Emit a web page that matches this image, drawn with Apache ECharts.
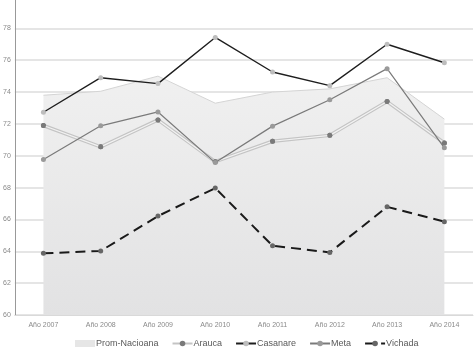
<!DOCTYPE html>
<html><head><meta charset="utf-8">
<script src="https://cdn.jsdelivr.net/npm/echarts@6/dist/echarts.min.js"></script>
<style>html,body{margin:0;padding:0;background:#fff;overflow:hidden}#c{width:475px;height:355px;margin-top:-7px}</style>
</head><body><div id="c"></div>
<script>
var categories = ['Año 2007','Año 2008','Año 2009','Año 2010','Año 2011','Año 2012','Año 2013','Año 2014'];
var promNacional = [73.8, 74.05, 75.0, 73.3, 74.0, 74.2, 74.9, 72.3];
var arauca = [71.9, 70.56, 72.25, 69.63, 70.91, 71.28, 73.4, 70.8];
var casanare = [72.73, 74.9, 74.53, 77.43, 75.26, 74.4, 77.0, 75.84];
var meta = [69.77, 71.88, 72.75, 69.57, 71.86, 73.52, 75.47, 70.5];
var vichada = [63.87, 64.02, 66.21, 67.97, 64.35, 63.93, 66.79, 65.86];

var chart = echarts.init(document.getElementById('c'));
chart.setOption({
  animation: false,
  grid: {left: 12, right: 2, top: 0, bottom: 33, containLabel: false},
  legend: {
    bottom: -5, left: 70, itemGap: 13, itemWidth: 20, itemHeight: 7,
    textStyle: {fontSize: 9, color: '#595959', fontFamily: 'Liberation Sans', padding: [0,0,0,-4]},
    data: [
      {name: 'Prom-Nacioana', icon: 'rect'},
      {name: 'Arauca'}, {name: 'Casanare'}, {name: 'Meta'}, {name: 'Vichada'}
    ]
  },
  xAxis: {
    type: 'category', data: categories, boundaryGap: true,
    axisLine: {lineStyle: {color: '#d9d9d9'}}, axisTick: {show: false},
    axisLabel: {fontSize: 7, color: '#8a8a8a', margin: 7, fontFamily: 'Liberation Sans'}
  },
  yAxis: {
    type: 'value', min: 60, max: 80, interval: 2,
    axisLine: {show: true, lineStyle: {color: '#999', width: 1}}, axisTick: {show: false},
    axisLabel: {fontSize: 7, color: '#8a8a8a', margin: 4, fontFamily: 'Liberation Sans'},
    splitLine: {lineStyle: {color: '#dcdcdc', width: 1.5}}
  },
  series: [
    {name: 'Prom-Nacioana', type: 'line', data: promNacional, showSymbol: false, symbol: 'none',
     itemStyle: {color: '#e6e6e6'},
     lineStyle: {color: '#d4d4d4', width: 1},
     areaStyle: {origin: 'start', opacity: 1, color: new echarts.graphic.LinearGradient(0,0,0,1,[{offset:0,color:'#f0f0f0'},{offset:1,color:'#e2e2e3'}])}},
    {name: 'Arauca', type: 'line', data: arauca, symbol: 'circle', symbolSize: 5,
     itemStyle: {color: '#7a7a7a', borderWidth: 0}, lineStyle: {color: '#c4c4c4', width: 3.5}, z: 3},
    {name: 'Arauca', type: 'line', data: arauca, symbol: 'circle', symbolSize: 5,
     itemStyle: {color: '#7a7a7a', borderWidth: 0}, lineStyle: {color: '#f2f2f2', width: 1.2}, z: 4},
    {name: 'Casanare', type: 'line', data: casanare, symbol: 'circle', symbolSize: 5,
     itemStyle: {color: '#bdbdbd', borderWidth: 0}, lineStyle: {color: '#1e1e1e', width: 1.4}, z: 5},
    {name: 'Meta', type: 'line', data: meta, symbol: 'circle', symbolSize: 5,
     itemStyle: {color: '#9a9a9a', borderWidth: 0}, lineStyle: {color: '#7a7a7a', width: 1.2}, z: 5},
    {name: 'Vichada', type: 'line', data: vichada, symbol: 'circle', symbolSize: 5,
     itemStyle: {color: '#666', borderWidth: 0}, lineStyle: {color: '#1a1a1a', width: 2, type: [10, 6]}, z: 5}
  ]
});
</script></body></html>
